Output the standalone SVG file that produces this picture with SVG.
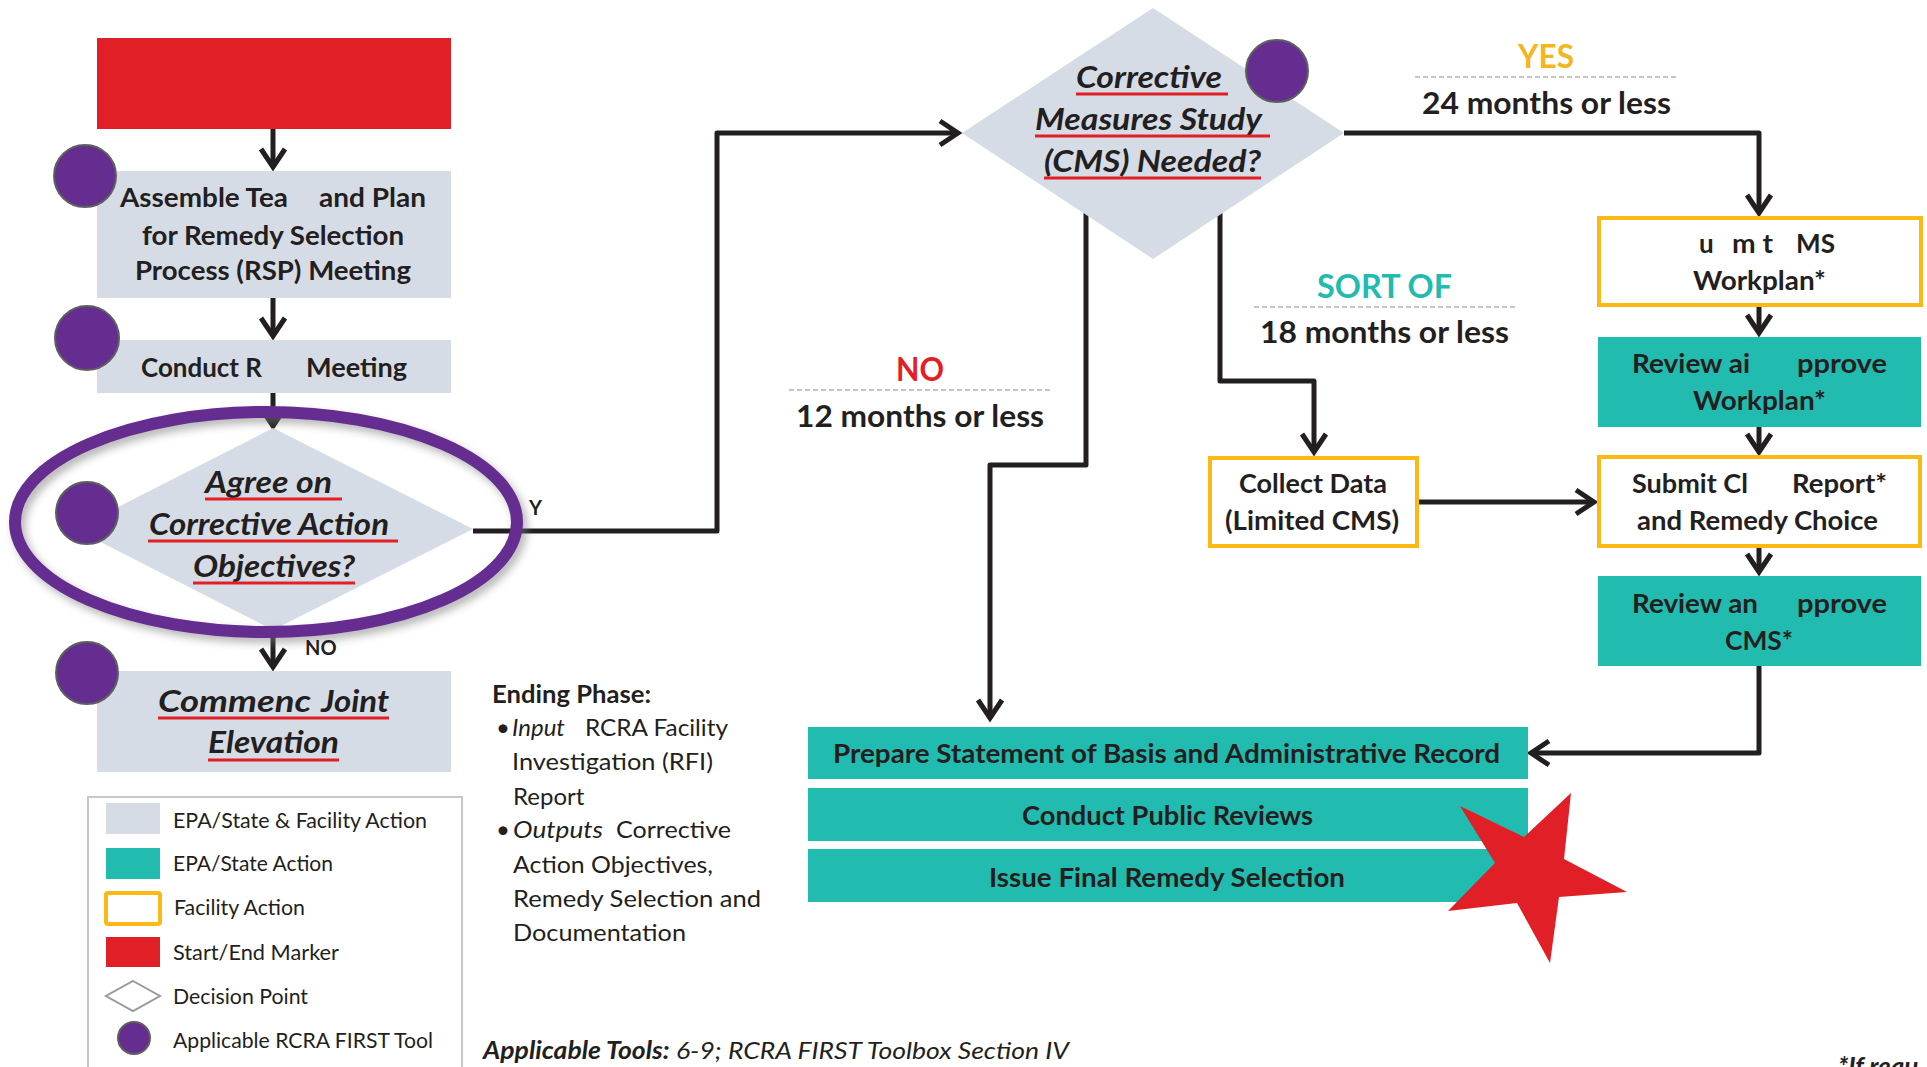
<svg xmlns="http://www.w3.org/2000/svg" width="1927" height="1067" viewBox="0 0 1927 1067">
  <style>
    .t { font-family: Lato, 'Liberation Sans', sans-serif; fill: #231f20; }
    .b { font-weight: 700; }
    .i { font-style: italic; }
    .gray { fill: #d6dce5; }
    .teal { fill: #22bbb0; }
    .fac { fill: #ffffff; stroke: #fdb913; stroke-width: 4; }
    .start { fill: #e01f26; }
    .tool { fill: #662d91; stroke: #5f5f5f; stroke-width: 2; }
    .ul { stroke: #e31e24; stroke-width: 3; }
    .dash { stroke: #b3b3b3; stroke-width: 1.5; stroke-dasharray: 5 3; }
    #connectors path { fill: none; stroke: #231f20; stroke-width: 5; stroke-linejoin: round; }
    .box { font-size: 26px; }
    .q { font-size: 30px; }
    .lab { font-size: 31px; }
    .big { font-size: 33px; }
    .leg { font-size: 20.5px; }
    .note { font-size: 24px; }
  </style>
  <defs>
    <marker id="arrow" markerUnits="userSpaceOnUse" markerWidth="40" markerHeight="40" refX="0" refY="0" orient="auto" overflow="visible">
      <path d="M-18,-12 L0,0 L-18,12" fill="none" stroke="#231f20" stroke-width="5" stroke-linejoin="miter"/>
    </marker>
    <filter id="soft" x="-10%" y="-20%" width="120%" height="140%">
      <feGaussianBlur stdDeviation="4"/>
    </filter>
  </defs>

  <rect width="1927" height="1067" fill="#ffffff"/>

  <!-- connectors -->
  <g id="connectors">
    <path d="M273,129 V167" marker-end="url(#arrow)"/>
    <path d="M273,298 V336" marker-end="url(#arrow)"/>
    <path d="M273,393 V426" marker-end="url(#arrow)"/>
    <path d="M273,630 V667" marker-end="url(#arrow)"/>
    <path d="M473,531 H717 V133 H958" marker-end="url(#arrow)"/>
    <path d="M1344,133 H1759 V213" marker-end="url(#arrow)"/>
    <path d="M1759,307 V333" marker-end="url(#arrow)"/>
    <path d="M1759,427 V452" marker-end="url(#arrow)"/>
    <path d="M1759,548 V572" marker-end="url(#arrow)"/>
    <path d="M1759,666 V753 H1531" marker-end="url(#arrow)"/>
    <path d="M1419,502 H1594" marker-end="url(#arrow)"/>
    <path d="M1220,205 V381 H1314 V452" marker-end="url(#arrow)"/>
    <path d="M1086,205 V465 H990 V718" marker-end="url(#arrow)"/>
  </g>

  <!-- start marker -->
  <g id="start">
    <rect class="start" x="97" y="38" width="354" height="91"/>
  </g>

  <!-- assemble team -->
  <g id="assemble">
    <rect class="gray" x="97" y="171" width="354" height="127"/>
    <text class="t b box" x="120" y="207" textLength="168" lengthAdjust="spacingAndGlyphs">Assemble Tea</text>
    <text class="t b box" x="319" y="207" textLength="107" lengthAdjust="spacingAndGlyphs">and Plan</text>
    <text class="t b box" x="142" y="245" textLength="262" lengthAdjust="spacingAndGlyphs">for Remedy Selection</text>
    <text class="t b box" x="135" y="280" textLength="276" lengthAdjust="spacingAndGlyphs">Process (RSP) Meeting</text>
    <circle class="tool" cx="85" cy="176" r="31"/>
  </g>

  <!-- conduct meeting -->
  <g id="conduct">
    <rect class="gray" x="97" y="340" width="354" height="53"/>
    <text class="t b box" x="141" y="377" textLength="121" lengthAdjust="spacingAndGlyphs">Conduct R</text>
    <text class="t b box" x="306" y="377" textLength="101" lengthAdjust="spacingAndGlyphs">Meeting</text>
    <circle class="tool" cx="87" cy="338" r="32"/>
  </g>

  <!-- agree on objectives decision -->
  <g id="agree">
    <polygon class="gray" points="273,428 473,529 273,630 75,529"/>
    <text class="t b i q" x="205" y="493" textLength="127" lengthAdjust="spacingAndGlyphs">Agree on</text>
    <line class="ul" x1="205" y1="499" x2="342" y2="499"/>
    <text class="t b i q" x="149" y="535" textLength="240" lengthAdjust="spacingAndGlyphs">Corrective Action</text>
    <line class="ul" x1="148" y1="541" x2="398" y2="541"/>
    <text class="t b i q" x="193" y="577" textLength="162" lengthAdjust="spacingAndGlyphs">Objectives?</text>
    <line class="ul" x1="193" y1="583" x2="355" y2="583"/>
    <circle class="tool" cx="87" cy="513" r="31"/>
    <ellipse cx="270" cy="527" rx="251" ry="110" fill="none" stroke="#7a7a7a" stroke-width="12" opacity="0.55" filter="url(#soft)"/>
    <ellipse cx="266" cy="522" rx="251" ry="110" fill="none" stroke="#662d91" stroke-width="12"/>
    <text class="t b" x="529" y="515" font-size="20">Y</text>
    <text class="t b" x="305" y="655" font-size="20">NO</text>
  </g>

  <!-- commence joint elevation -->
  <g id="elevation">
    <rect class="gray" x="97" y="671" width="354" height="101"/>
    <text class="t b i q" x="158" y="712" textLength="153" lengthAdjust="spacingAndGlyphs">Commenc</text>
    <text class="t b i q" x="321" y="712" textLength="68" lengthAdjust="spacingAndGlyphs">Joint</text>
    <line class="ul" x1="158" y1="718" x2="389" y2="718"/>
    <text class="t b i q" x="208" y="753" textLength="131" lengthAdjust="spacingAndGlyphs">Elevation</text>
    <line class="ul" x1="208" y1="760" x2="339" y2="760"/>
    <circle class="tool" cx="87" cy="673" r="31"/>
  </g>

  <!-- CMS needed decision -->
  <g id="cms-needed">
    <polygon class="gray" points="1153,8 1344,133 1153,259 962,133"/>
    <text class="t b i q" x="1076" y="88" textLength="146" lengthAdjust="spacingAndGlyphs">Corrective</text>
    <line class="ul" x1="1076" y1="94" x2="1228" y2="94"/>
    <text class="t b i q" x="1035" y="130" textLength="227" lengthAdjust="spacingAndGlyphs">Measures Study</text>
    <line class="ul" x1="1035" y1="136" x2="1270" y2="136"/>
    <text class="t b i q" x="1044" y="172" textLength="217" lengthAdjust="spacingAndGlyphs">(CMS) Needed?</text>
    <line class="ul" x1="1044" y1="178" x2="1261" y2="178"/>
    <circle class="tool" cx="1277" cy="71" r="31"/>
  </g>

  <!-- branch labels -->
  <g id="label-yes">
    <text class="t b big" x="1518" y="68" fill="#f3b61f" style="fill:#f3b61f" textLength="56" lengthAdjust="spacingAndGlyphs">YES</text>
    <line class="dash" x1="1415" y1="77" x2="1677" y2="77"/>
    <text class="t b lab" x="1422" y="114" textLength="249" lengthAdjust="spacingAndGlyphs">24 months or less</text>
  </g>
  <g id="label-sortof">
    <text class="t b big" x="1317" y="298" style="fill:#22bbb0" textLength="135" lengthAdjust="spacingAndGlyphs">SORT OF</text>
    <line class="dash" x1="1254" y1="307" x2="1516" y2="307"/>
    <text class="t b lab" x="1260" y="343" textLength="249" lengthAdjust="spacingAndGlyphs">18 months or less</text>
  </g>
  <g id="label-no">
    <text class="t b big" x="896" y="381" style="fill:#e31e24" textLength="48" lengthAdjust="spacingAndGlyphs">NO</text>
    <line class="dash" x1="789" y1="390" x2="1051" y2="390"/>
    <text class="t b lab" x="796" y="427" textLength="248" lengthAdjust="spacingAndGlyphs">12 months or less</text>
  </g>

  <!-- submit CMS workplan -->
  <g id="submit-workplan">
    <rect class="fac" x="1599" y="218" width="322" height="87"/>
    <text class="t b box" x="1699" y="253">u</text>
    <text class="t b box" x="1732" y="253" textLength="41" lengthAdjust="spacingAndGlyphs">m t</text>
    <text class="t b box" x="1796" y="253" textLength="39" lengthAdjust="spacingAndGlyphs">MS</text>
    <text class="t b box" x="1693" y="290" textLength="133" lengthAdjust="spacingAndGlyphs">Workplan*</text>
  </g>

  <!-- review and approve workplan -->
  <g id="review-workplan">
    <rect class="teal" x="1598" y="337" width="323" height="90"/>
    <text class="t b box" x="1632" y="373" textLength="118" lengthAdjust="spacingAndGlyphs">Review ai</text>
    <text class="t b box" x="1797" y="373" textLength="90" lengthAdjust="spacingAndGlyphs">pprove</text>
    <text class="t b box" x="1693" y="410" textLength="133" lengthAdjust="spacingAndGlyphs">Workplan*</text>
  </g>

  <!-- collect data -->
  <g id="collect">
    <rect class="fac" x="1210" y="458" width="207" height="88"/>
    <text class="t b box" x="1239" y="493" textLength="148" lengthAdjust="spacingAndGlyphs">Collect Data</text>
    <text class="t b box" x="1225" y="530" textLength="174" lengthAdjust="spacingAndGlyphs">(Limited CMS)</text>
  </g>

  <!-- submit CMS report -->
  <g id="submit-report">
    <rect class="fac" x="1599" y="457" width="321" height="89"/>
    <text class="t b box" x="1632" y="493" textLength="116" lengthAdjust="spacingAndGlyphs">Submit Cl</text>
    <text class="t b box" x="1792" y="493" textLength="95" lengthAdjust="spacingAndGlyphs">Report*</text>
    <text class="t b box" x="1637" y="530" textLength="241" lengthAdjust="spacingAndGlyphs">and Remedy Choice</text>
  </g>

  <!-- review and approve CMS -->
  <g id="review-cms">
    <rect class="teal" x="1598" y="576" width="323" height="90"/>
    <text class="t b box" x="1632" y="613" textLength="126" lengthAdjust="spacingAndGlyphs">Review an</text>
    <text class="t b box" x="1797" y="613" textLength="90" lengthAdjust="spacingAndGlyphs">pprove</text>
    <text class="t b box" x="1725" y="650" textLength="68" lengthAdjust="spacingAndGlyphs">CMS*</text>
  </g>

  <!-- final steps -->
  <g id="statement-of-basis">
    <rect class="teal" x="808" y="727" width="720" height="52"/>
    <text class="t b box" x="833" y="763" textLength="667" lengthAdjust="spacingAndGlyphs">Prepare Statement of Basis and Administrative Record</text>
  </g>
  <g id="public-reviews">
    <rect class="teal" x="808" y="788" width="720" height="53"/>
    <text class="t b box" x="1022" y="825" textLength="291" lengthAdjust="spacingAndGlyphs">Conduct Public Reviews</text>
  </g>
  <g id="final-remedy">
    <rect class="teal" x="808" y="849" width="720" height="53"/>
    <text class="t b box" x="989" y="887" textLength="356" lengthAdjust="spacingAndGlyphs">Issue Final Remedy Selection</text>
  </g>

  <!-- end marker -->
  <g id="end">
    <polygon class="start" points="1571,793 1564,859 1627,892 1559,897 1550,963 1517,903 1448,911 1495,863 1460,806 1524,837"/>
  </g>

  <!-- phase notes -->
  <g id="ending-phase">
    <text class="t b note" x="492" y="703" font-size="25" textLength="159" lengthAdjust="spacingAndGlyphs">Ending Phase:</text>
    <text class="t note" x="496" y="736">•</text>
    <text class="t i note" x="512" y="736">Input</text>
    <text class="t note" x="585" y="736" textLength="143" lengthAdjust="spacingAndGlyphs">RCRA Facility</text>
    <text class="t note" x="512" y="770" textLength="201" lengthAdjust="spacingAndGlyphs">Investigation (RFI)</text>
    <text class="t note" x="513" y="805">Report</text>
    <text class="t note" x="496" y="838">•</text>
    <text class="t i note" x="513" y="838" textLength="90" lengthAdjust="spacingAndGlyphs">Outputs</text>
    <text class="t note" x="616" y="838" textLength="115" lengthAdjust="spacingAndGlyphs">Corrective</text>
    <text class="t note" x="513" y="873" textLength="200" lengthAdjust="spacingAndGlyphs">Action Objectives,</text>
    <text class="t note" x="513" y="907" textLength="248" lengthAdjust="spacingAndGlyphs">Remedy Selection and</text>
    <text class="t note" x="513" y="941" textLength="173" lengthAdjust="spacingAndGlyphs">Documentation</text>
  </g>

  <g id="tools-note">
    <text class="t i note" x="483" y="1059" textLength="586" lengthAdjust="spacingAndGlyphs"><tspan class="b">Applicable Tools:</tspan> 6-9; RCRA FIRST Toolbox Section IV</text>
  </g>
  <g id="footnote">
    <text class="t b i" x="1838" y="1076" font-size="26">*If requ</text>
  </g>

  <!-- legend -->
  <g id="legend">
    <rect x="88" y="797" width="374" height="290" fill="#ffffff" stroke="#c8c8c8" stroke-width="2"/>
    <rect class="gray" x="106" y="803" width="54" height="31"/>
    <text class="t leg" x="173" y="828" textLength="254" lengthAdjust="spacingAndGlyphs">EPA/State &amp; Facility Action</text>
    <rect class="teal" x="106" y="848" width="54" height="31"/>
    <text class="t leg" x="173" y="871" textLength="160" lengthAdjust="spacingAndGlyphs">EPA/State Action</text>
    <rect class="fac" x="106" y="893" width="54" height="31" rx="2"/>
    <text class="t leg" x="174" y="915" textLength="131" lengthAdjust="spacingAndGlyphs">Facility Action</text>
    <rect class="start" x="106" y="937" width="54" height="30"/>
    <text class="t leg" x="173" y="960" textLength="166" lengthAdjust="spacingAndGlyphs">Start/End Marker</text>
    <polygon points="133,981 160,996 133,1011 106,996" fill="#ffffff" stroke="#9a9a9a" stroke-width="2"/>
    <text class="t leg" x="173" y="1004" textLength="135" lengthAdjust="spacingAndGlyphs">Decision Point</text>
    <circle class="tool" cx="134" cy="1038" r="16"/>
    <text class="t leg" x="173" y="1048" textLength="260" lengthAdjust="spacingAndGlyphs">Applicable RCRA FIRST Tool</text>
  </g>
</svg>
